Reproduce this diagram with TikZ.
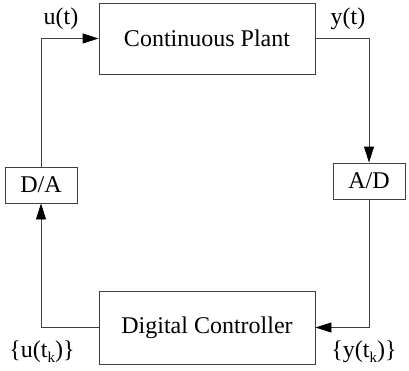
\documentclass[tikz,border=0pt]{standalone}
\usepackage{fontspec}
\setmainfont{Liberation Serif}
\usetikzlibrary{arrows.meta}
\newcommand{\subk}{\raisebox{-0.45ex}{\fontsize{15}{15}\selectfont k}}

\begin{document}
\begin{tikzpicture}[x=1pt,y=-1pt,>={Triangle[length=16pt,width=10pt,color=black]},
  font=\fontsize{24}{28}\selectfont,
  block/.style={draw=black!75,line width=0.9pt,inner sep=0pt},
  wire/.style={draw=black!75,line width=0.9pt}]
\useasboundingbox (0,0) rectangle (409,370);
\node[block,minimum width=216pt,minimum height=71pt] (plant) at (207,38.5) {Continuous Plant};
\node[block,minimum width=216pt,minimum height=73pt] (ctrl)  at (207,327.5) {Digital Controller};
\node[block,minimum width=72pt,minimum height=36pt]  (da)    at (41,185) {D/A};
\node[block,minimum width=72pt,minimum height=36pt]  (ad)    at (369,181) {A/D};
\node (u)  at (61,19)  {u(t)};
\node (y)  at (348,19) {y(t)};
\node (uk) at (42,352) {\{u(t\subk)\}};
\node (yk) at (364,352) {\{y(t\subk)\}};
\path[wire,->] (da.north) |- (plant.west);
\path[wire,->] (plant.east) -| (ad.north);
\path[wire,->] (ad.south) |- (ctrl.east);
\path[wire,->] (ctrl.west) -| (da.south);
\end{tikzpicture}
\end{document}
